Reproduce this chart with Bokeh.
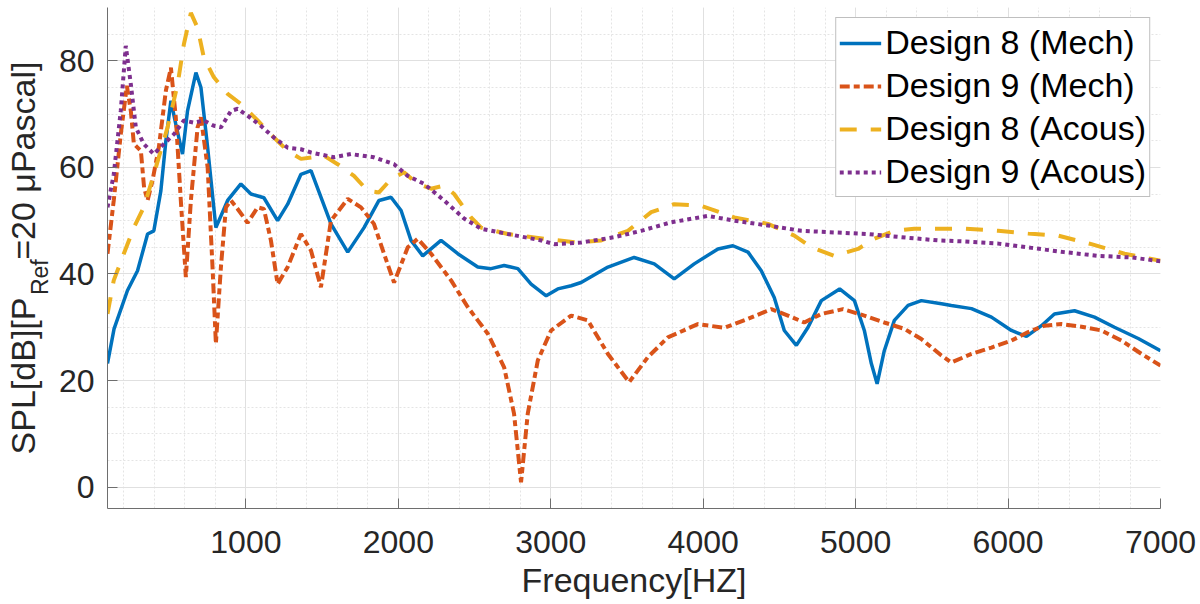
from bokeh.plotting import figure
from bokeh.models import Range1d, FixedTicker, LinearAxis
from bokeh.embed import file_html
from bokeh.resources import INLINE

# ---- data ----
f8m = [92,135,223,289,355,396,442,475,508,540,584,617,672,705,749,803,880,967,1033,1118,
       1208,1274,1361,1427,1558,1668,1775,1873,1952,2018,2083,2160,2280,2390,2521,2608,2694,2784,2871,2970,
       3046,3134,3199,3375,3547,3679,3810,3941,4097,4195,4294,4381,4466,4532,4611,4688,4775,4895,4992,5057,
       5103,5141,5188,5254,5344,5431,5563,5628,5760,5891,6022,6121,6219,6304,6436,6567,6698,6854,7000]
d8m = [23.2,29.7,36.9,40.6,47.5,48.1,55.6,65,72.5,68.1,62.5,70.6,77.8,75,63.7,48.7,53.8,56.9,55,54.3,
       50,53.1,58.7,59.4,49.4,44.1,48.7,53.8,54.4,51.9,46.3,43.4,46.3,43.8,41.3,41,41.6,41,38.1,35.9,
       37.2,37.8,38.4,41.3,43.1,41.9,39.1,41.9,44.7,45.3,44.1,40.6,35.6,29.4,26.6,30,35,37.2,35,29.4,
       23.2,19.4,25.6,31.3,34.1,35,34.4,34.1,33.5,31.9,29.4,28.3,30.3,32.5,33.1,31.9,30,27.9,25.6]

f9m = [92,133,179,219,245,265,311,332,355,387,429,475,508,540,573,606,639,683,705,749,
       781,803,836,869,902,946,1011,1077,1118,1164,1208,1274,1361,1427,1492,1558,1668,1755,1840,1906,
       1972,2062,2127,2215,2346,2455,2521,2587,2694,2759,2805,2849,2915,3002,3134,3243,3375,3514,3637,3768,
       3965,4138,4294,4447,4556,4663,4775,4917,5057,5188,5320,5431,5563,5628,5760,5891,6022,6132,6239,6350,
       6482,6613,6744,6876,7000]
d9m = [43.8,53.8,66.2,75.3,70.6,64.4,63.1,56.2,53.8,57.5,63.8,74.4,78.7,69.4,53.8,39.4,53.8,67.5,69.4,60,
       41.3,26.9,41.3,52.5,53.8,52.2,49.6,52.5,52.2,46.3,38.1,41.3,47.5,44.4,37.5,50,54.1,52.5,49.4,43.8,
       38.4,45,46.6,43.8,38.8,33.8,31.3,28.8,22.5,13.8,0.9,13.8,23.8,29.4,32.2,31.3,25,19.7,24.4,28.1,
       30.6,29.9,31.6,33.4,32.2,30.9,32.5,33.4,32.2,30.9,29.7,27.8,24.7,23.4,25,26.2,27.5,29.1,30.3,30.6,
       30.1,29.4,27.5,25,22.8]

f8a = [92,133,199,265,330,396,486,552,593,639,683,724,790,880,967,1077,1184,1274,1361,1512,
       1602,1709,1799,1873,1952,2037,2127,2215,2300,2366,2477,2543,2718,2956,3178,3331,3506,3659,3810,3987,
       4204,4425,4598,4709,4860,5016,5123,5254,5385,5563,5714,5935,6132,6329,6547,6764,7000]
d8a = [32.5,38.8,43.8,48.7,52.5,58.7,67.5,75.6,83.1,89,86.2,80.6,76.9,73.8,71.9,68.8,65.6,63.1,61.6,62.2,
       60.6,58.4,55.6,55.3,57.8,59.1,56.9,56,56.6,55,50.6,48.7,47.5,46.6,45.9,46.3,48.1,51.6,53.1,52.8,
       50.6,49.4,47.2,45,43.4,44.7,46.6,48.1,48.5,48.5,48.5,48.1,47.6,47.2,45.6,43.8,42.5]

f9a = [92,133,179,212,245,278,330,396,462,527,593,659,724,790,836,902,946,1011,1098,1184,
       1274,1361,1427,1578,1689,1840,1972,2062,2169,2300,2431,2543,2718,2937,3022,3199,3416,3593,3790,4031,
       4204,4425,4643,4860,5081,5300,5541,5714,5935,6153,6370,6591,6810,7000]
d9a = [52.5,58.7,70.6,82.8,75.6,67.5,64.4,62.5,64.4,66.2,68.8,68.4,68.8,67.8,67.5,70.6,71,69.7,67.8,65.6,
       63.7,63.4,62.8,61.9,62.5,61.9,60.6,58.4,56.9,53.8,50.4,48.5,47.5,46.3,45.6,45.9,46.9,48.1,49.7,50.9,
       50,49.1,48.1,47.8,47.5,46.9,46.3,46.1,45.7,44.9,44.1,43.4,43.1,42.4]

series_labels = ["Design 8 (Mech)", "Design 9 (Mech)", "Design 8 (Acous)", "Design 9 (Acous)"]
x_ticks = [1000, 2000, 3000, 4000, 5000, 6000, 7000]
x_minor = list(range(200, 7001, 200))
y_ticks = [0, 20, 40, 60, 80]
y_minor = list(range(0, 91, 5))
x_title = "Frequency[HZ]"
y_title_main = "SPL[dB][P\u00a0\u00a0\u00a0\u00a0=20 \u03bcPascal]"
y_title_sub = "Ref" + "\u00a0" * 6

FONT = "Liberation Sans"
TXT = "#262626"
AX = "#6e6e6e"

p = figure(width=1200, height=604, output_backend="svg", toolbar_location=None,
           x_range=Range1d(92, 7000), y_range=Range1d(-4.0, 90),
           min_border_left=107, min_border_right=40, min_border_top=7, min_border_bottom=96)
p.outline_line_color = None
p.background_fill_color = "white"

p.xaxis.ticker = FixedTicker(ticks=x_ticks, minor_ticks=x_minor)
p.yaxis.ticker = FixedTicker(ticks=y_ticks, minor_ticks=y_minor)
for ax in (p.xaxis[0], p.yaxis[0]):
    ax.major_label_text_font = FONT
    ax.major_label_text_font_size = "32px"
    ax.major_label_text_color = TXT
    ax.axis_line_color = AX
    ax.major_tick_line_color = AX
    ax.major_tick_in = 10
    ax.major_tick_out = 0
    ax.minor_tick_in = 0
    ax.minor_tick_out = 0
    ax.axis_label_text_font = FONT
    ax.axis_label_text_font_style = "normal"
    ax.axis_label_text_color = TXT
p.xaxis.major_label_standoff = 22
p.yaxis.major_label_standoff = 13

p.xaxis.axis_label = x_title
p.xaxis.axis_label_text_font_size = "34px"
p.xaxis.axis_label_standoff = 5

p.yaxis.axis_label = y_title_sub
p.yaxis.axis_label_text_font_size = "23px"
p.yaxis.axis_label_standoff = 3

title_axis = LinearAxis(ticker=FixedTicker(ticks=[]), axis_label=y_title_main,
                        axis_line_color=None, major_tick_line_color=None, minor_tick_line_color=None,
                        major_tick_in=0, major_tick_out=0, minor_tick_in=0, minor_tick_out=0,
                        major_label_standoff=0, axis_label_standoff=-18,
                        axis_label_text_font=FONT, axis_label_text_font_size="34px",
                        axis_label_text_font_style="normal", axis_label_text_color=TXT)
p.add_layout(title_axis, "left")

p.grid.grid_line_color = "#e0e0e0"
p.grid.grid_line_width = 1
p.grid.minor_grid_line_color = "#e4e4e4"
p.grid.minor_grid_line_dash = "2 2"

p.line(f8m, d8m, line_color="#0072BD", line_width=3.5, legend_label=series_labels[0])
p.line(f9m, d9m, line_color="#D95319", line_width=4, line_dash="10 4 6 4", legend_label=series_labels[1])
p.line(f8a, d8a, line_color="#EDB120", line_width=4, line_dash="17 14", legend_label=series_labels[2])
p.line(f9a, d9a, line_color="#7E2F8E", line_width=4, line_dash="4 4", legend_label=series_labels[3])

lg = p.legend[0]
lg.location = "top_right"
lg.margin = 10
lg.label_text_font = FONT
lg.label_text_font_size = "34px"
lg.label_text_color = "black"
lg.glyph_width = 42
lg.label_standoff = 4
lg.padding = 3
lg.spacing = 0
lg.label_height = 43
lg.border_line_color = "#7f7f7f"
lg.border_line_width = 1
lg.background_fill_alpha = 1.0

open("out.html", "w").write(file_html(p, INLINE))
